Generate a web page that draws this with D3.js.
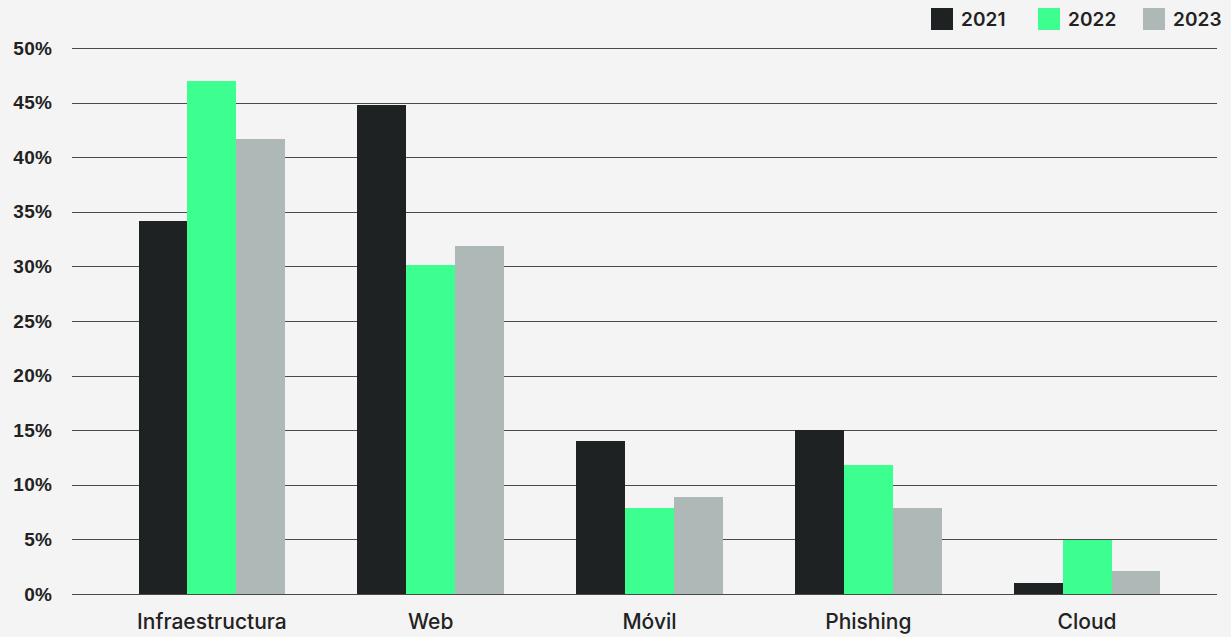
<!DOCTYPE html>
<html>
<head>
<meta charset="utf-8">
<script src="https://cdn.jsdelivr.net/npm/d3@7"></script>
<style>
  html, body { margin: 0; padding: 0; background: #f4f4f4; }
  svg { display: block; font-family: Inter, "Noto Sans", sans-serif; }
</style>
</head>
<body>
<svg id="chart" width="1231" height="637"></svg>
<script>
// Categories and yearly shares (%)
const categories = ["Infraestructura", "Web", "Móvil", "Phishing", "Cloud"];
const years = ["2021", "2022", "2023"];
const values2021 = [34.2, 44.8, 14.0, 15.0, 1.0];
const values2022 = [47.0, 30.1, 7.9, 11.8, 4.95];
const values2023 = [41.7, 31.9, 8.9, 7.9, 2.1];
const yTicks = [0, 5, 10, 15, 20, 25, 30, 35, 40, 45, 50];
const colors = ["#1f2223", "#3cff8f", "#adb8b7"];

const series = [values2021, values2022, values2023];

const svg = d3.select("#chart");
const plotLeft = 72, plotRight = 1217, plotTop = 48, plotBottom = 594;

const y = d3.scaleLinear().domain([0, 50]).range([plotBottom, plotTop]);
const x0 = d3.scaleBand().domain(categories).range([102.5, 1196.5])
  .paddingInner(0.33).paddingOuter(0.165);
const x1 = d3.scaleBand().domain(years).range([0, x0.bandwidth()]);

// Gridlines with percentage labels
const yAxis = d3.axisLeft(y).tickValues(yTicks)
  .tickSize(-(plotRight - plotLeft)).tickFormat(d => d + "%").tickPadding(20);
const gy = svg.append("g").attr("transform", `translate(${plotLeft},0)`).call(yAxis);
gy.select(".domain").remove();
gy.selectAll(".tick line").attr("stroke", "#4a4a4a").attr("stroke-width", 1)
  .attr("shape-rendering", "crispEdges");
gy.selectAll(".tick text").attr("fill", "#222").style("font-size", "19px")
  .style("font-weight", 600).style("letter-spacing", "0.2px").attr("x", -20);

// Grouped bars
const groups = svg.append("g").selectAll("g").data(categories).join("g")
  .attr("transform", d => `translate(${x0(d)},0)`);
groups.selectAll("rect")
  .data((c, i) => years.map((yr, j) => ({ yr, v: series[j][i], j })))
  .join("rect")
  .attr("x", d => x1(d.yr))
  .attr("width", x1.bandwidth())
  .attr("y", d => y(d.v))
  .attr("height", d => y(0) - y(d.v))
  .attr("fill", d => colors[d.j])
  .attr("shape-rendering", "crispEdges");

// Category labels
const xAxis = d3.axisBottom(x0).tickSize(0).tickPadding(20);
const gx = svg.append("g").attr("transform", `translate(0,${plotBottom})`).call(xAxis);
gx.select(".domain").remove();
gx.selectAll(".tick text").attr("fill", "#222").style("font-size", "21px")
  .style("font-weight", 500).style("font-family", "Inter, 'Noto Sans', sans-serif");

// Legend
const legendX = [931, 1038, 1143];
const legend = svg.append("g").selectAll("g").data(years).join("g")
  .attr("transform", (d, i) => `translate(${legendX[i]},8)`);
legend.append("rect").attr("width", 22).attr("height", 22)
  .attr("fill", (d, i) => colors[i]);
legend.append("text").attr("x", 30).attr("y", 18).text(d => d)
  .attr("fill", "#222").style("font-size", "19px").style("font-weight", 600)
  .style("letter-spacing", "0.1px");
</script>
</body>
</html>
